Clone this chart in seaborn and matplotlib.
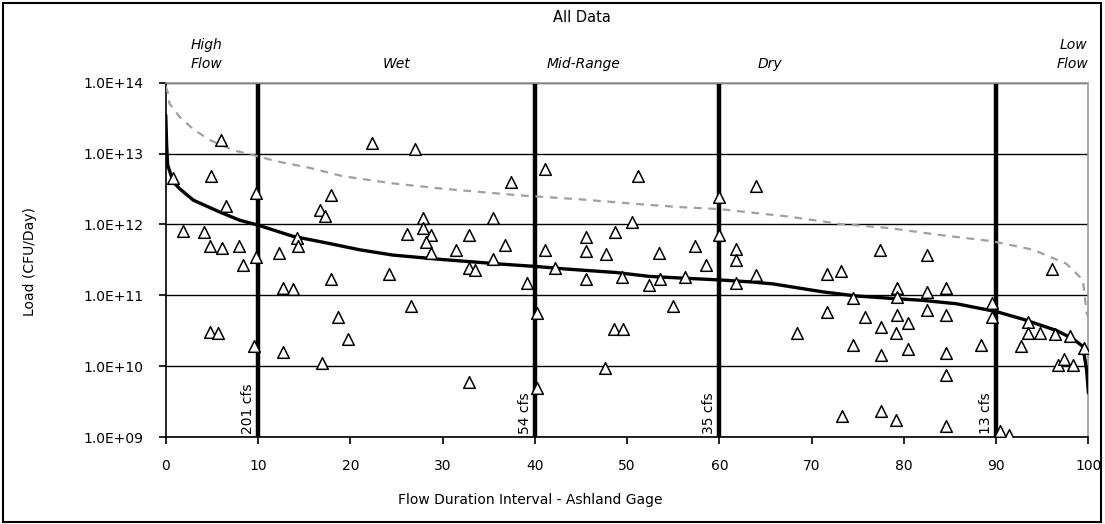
import numpy as np
import pandas as pd
import matplotlib
matplotlib.use('Agg')
import matplotlib.pyplot as plt
from matplotlib.patches import Rectangle
from matplotlib.ticker import FixedLocator, NullLocator
import seaborn as sns

sns.set_style('white')
plt.rcParams['font.family'] = ['DejaVu Sans']
plt.rcParams['text.color'] = 'black'
plt.rcParams['xtick.color'] = 'black'
plt.rcParams['ytick.color'] = 'black'

# observed samples: flow duration interval (%) and load (CFU/day)
obs_x = [0.8, 1.9, 4.15, 4.9, 4.8, 4.8, 5.7, 6.0, 6.1, 6.5, 7.9, 8.4, 9.6, 9.8, 9.8,
         12.3, 12.7, 13.8, 12.7, 14.2, 14.3, 16.7, 17.3, 17.9, 17.9, 16.9, 18.7, 19.7,
         22.3, 24.2, 26.1, 26.6, 27.05, 27.9, 27.9, 28.8, 28.2, 28.8, 31.5, 32.9, 32.9,
         33.5, 32.9, 35.5, 35.5, 36.8, 37.45, 39.1, 40.2, 40.2, 41.06, 41.06, 42.2,
         45.6, 45.6, 45.6, 47.7, 47.6, 48.7, 48.6, 49.6, 49.5, 50.5, 51.2, 52.4, 53.5,
         53.6, 55.0, 56.3, 57.4, 58.5, 60.0, 60.0, 61.8, 61.8, 61.8, 64.0, 64.0, 68.4,
         71.7, 73.2, 71.7, 73.3, 74.5, 74.5, 75.8, 77.4, 77.5, 77.5, 77.5, 79.2, 79.2,
         79.2, 79.1, 79.1, 80.4, 80.4, 82.5, 82.5, 82.5, 84.6, 84.6, 84.6, 84.6, 84.6,
         88.4, 89.5, 89.5, 90.4, 91.4, 92.7, 93.5, 93.5, 94.7, 96.0, 96.4, 96.7, 97.3,
         98.0, 98.3, 99.5]
obs_load = [4.6e12, 8.1e11, 7.8e11, 4.9e12, 4.9e11, 3.0e10, 2.9e10, 1.55e13, 4.6e11,
            1.8e12, 5.0e11, 2.7e11, 1.9e10, 2.75e12, 3.5e11, 3.9e11, 1.26e11, 1.23e11,
            1.6e10, 6.5e11, 4.9e11, 1.6e12, 1.3e12, 2.6e12, 1.7e11, 1.1e10, 5.0e10,
            2.45e10, 1.4e13, 2.0e11, 7.4e11, 7.1e10, 1.15e13, 1.23e12, 8.9e11, 7.1e11,
            5.6e11, 4.0e11, 4.3e11, 7.2e11, 2.4e11, 2.3e11, 5.9e9, 1.23e12, 3.3e11,
            5.1e11, 4.0e12, 1.5e11, 5.6e10, 4.9e9, 6.0e12, 4.4e11, 2.45e11, 6.6e11,
            4.2e11, 1.7e11, 3.8e11, 9.5e9, 7.8e11, 3.4e10, 3.4e10, 1.8e11, 1.1e12,
            4.8e12, 1.4e11, 3.9e11, 1.7e11, 7.1e10, 1.8e11, 4.9e11, 2.7e11, 2.45e12,
            7.1e11, 4.5e11, 3.2e11, 1.5e11, 3.5e12, 1.95e11, 2.95e10, 2.0e11, 2.2e11,
            5.8e10, 2.0e9, 9.1e10, 2.0e10, 4.9e10, 4.4e11, 3.6e10, 1.45e10, 2.3e9,
            1.26e11, 9.5e10, 5.2e10, 2.95e10, 1.75e9, 4.1e10, 1.75e10, 3.7e11, 1.1e11,
            6.3e10, 1.26e11, 5.2e10, 1.55e10, 7.6e9, 1.45e9, 2.0e10, 7.9e10, 4.9e10,
            1.2e9, 1.07e9, 1.95e10, 4.2e10, 2.9e10, 2.9e10, 2.35e11, 2.8e10, 1.05e10,
            1.25e10, 2.7e10, 1.05e10, 1.8e10]

# geometric mean load duration curve (solid)
mean_x = [0, 0.1, 0.2, 0.8, 1.5, 3, 5.85, 8, 10, 13.8, 17.4, 21, 24.6, 30, 36.5, 40.2,
          43.4, 48.8, 52.4, 56, 60, 63.3, 65.8, 71.2, 74.8, 78.4, 82, 85.7, 90, 92.9,
          96.5, 98.3, 99.4, 99.8, 100]
mean_load = [3.5e13, 1.3e13, 7.0e12, 4.0e12, 3.2e12, 2.2e12, 1.5e12, 1.15e12, 9.8e11,
             6.8e11, 5.5e11, 4.4e11, 3.7e11, 3.2e11, 2.75e11, 2.55e11, 2.35e11, 2.1e11,
             1.85e11, 1.75e11, 1.65e11, 1.55e11, 1.45e11, 1.12e11, 9.8e10, 9.1e10,
             8.5e10, 7.6e10, 5.9e10, 4.6e10, 3.2e10, 2.45e10, 1.9e10, 8.9e9, 4.2e9]

# single-sample maximum curve (dashed)
max_x = [0, 0.25, 0.4, 1.5, 3, 4.8, 7.3, 9.8, 12, 15.6, 19.2, 24.6, 30, 38, 45.2, 51, 56,
         60, 63.3, 67.6, 73, 78.4, 83.9, 89.6, 94, 97.6, 99.4, 99.8, 100]
max_load = [8.9e13, 7.1e13, 5.1e13, 3.3e13, 2.2e13, 1.55e13, 1.12e13, 9.3e12, 7.8e12,
            6.3e12, 4.8e12, 3.8e12, 3.2e12, 2.6e12, 2.25e12, 1.95e12, 1.75e12, 1.65e12,
            1.48e12, 1.29e12, 1.02e12, 8.9e11, 7.1e11, 5.8e11, 4.4e11, 2.8e11, 1.65e11,
            5.6e10, 5.0e10]

zone_bounds = [10, 40, 60, 90]
zone_flows = ['201 cfs', '54 cfs', '35 cfs', '13 cfs']
y_ticks = [1e9, 1e10, 1e11, 1e12, 1e13, 1e14]
y_labels = ['1.0E+09', '1.0E+10', '1.0E+11', '1.0E+12', '1.0E+13', '1.0E+14']

obs = pd.DataFrame({'x': obs_x, 'load': obs_load})
mean_df = pd.DataFrame({'x': mean_x, 'load': mean_load})
max_df = pd.DataFrame({'x': max_x, 'load': max_load})

fig = plt.figure(figsize=(11.05, 5.24), dpi=100)
ax = fig.add_axes([0.150, 0.166, 0.835, 0.676])
ax.set_yscale('log')

for yv in y_ticks:
    ax.axhline(yv, color='black', lw=1, zorder=1)
for xv in zone_bounds:
    ax.axvline(xv, color='black', lw=3.2, zorder=2)

sns.lineplot(data=max_df, x='x', y='load', ax=ax, color='#a0a0a0', lw=1.6,
             linestyle=(0, (3.5, 3)), estimator=None, sort=False, zorder=3)
sns.lineplot(data=mean_df, x='x', y='load', ax=ax, color='black', lw=2.4,
             estimator=None, sort=False, zorder=3)
sns.scatterplot(data=obs, x='x', y='load', ax=ax, marker='^', s=70, color='white',
                edgecolor='black', linewidth=1.1, zorder=4)

ax.set_xlim(0, 100)
ax.set_ylim(1e9, 1e14)
ax.set_xticks(range(0, 101, 10))
ax.yaxis.set_major_locator(FixedLocator(y_ticks))
ax.yaxis.set_minor_locator(NullLocator())
ax.set_yticklabels(y_labels)
ax.tick_params(axis='both', direction='out', length=5, width=1.2, color='black',
               labelsize=10)
ax.tick_params(axis='x', pad=11)
ax.tick_params(axis='y', pad=11)
ax.tick_params(left=True, bottom=True)
ax.set_xlabel('')
ax.set_ylabel('')
for side in ['left', 'bottom']:
    ax.spines[side].set_color('black')
    ax.spines[side].set_linewidth(1.2)
for side in ['top', 'right']:
    ax.spines[side].set_color('#9a9a9a')
    ax.spines[side].set_linewidth(1.2)

for xv, lab in zip(zone_bounds, zone_flows):
    ax.text(xv - 0.35, 1.12e9, lab, rotation=90, ha='right', va='bottom',
            fontsize=10, zorder=5)

fig.text(0.527, 0.966, 'All Data', ha='center', va='center', fontsize=10.5)
zone_text = [(0.187, 'High\nFlow'), (0.359, 'Wet'), (0.528, 'Mid-Range'),
             (0.697, 'Dry'), (0.971, 'Low\nFlow')]
for fx, lab in zone_text:
    fig.text(fx, 0.864, lab, ha='center', va='bottom', fontsize=10, style='italic',
             linespacing=1.45)

fig.text(0.480, 0.046, 'Flow Duration Interval - Ashland Gage', ha='center',
         va='center', fontsize=10)
fig.text(0.027, 0.50, 'Load (CFU/Day)', rotation=90, ha='center', va='center',
         fontsize=10)

fig.patches.append(Rectangle((0.003, 0.004), 0.993, 0.99, transform=fig.transFigure,
                             fill=False, edgecolor='black', lw=1.5))

fig.savefig('out.png', dpi=100)
